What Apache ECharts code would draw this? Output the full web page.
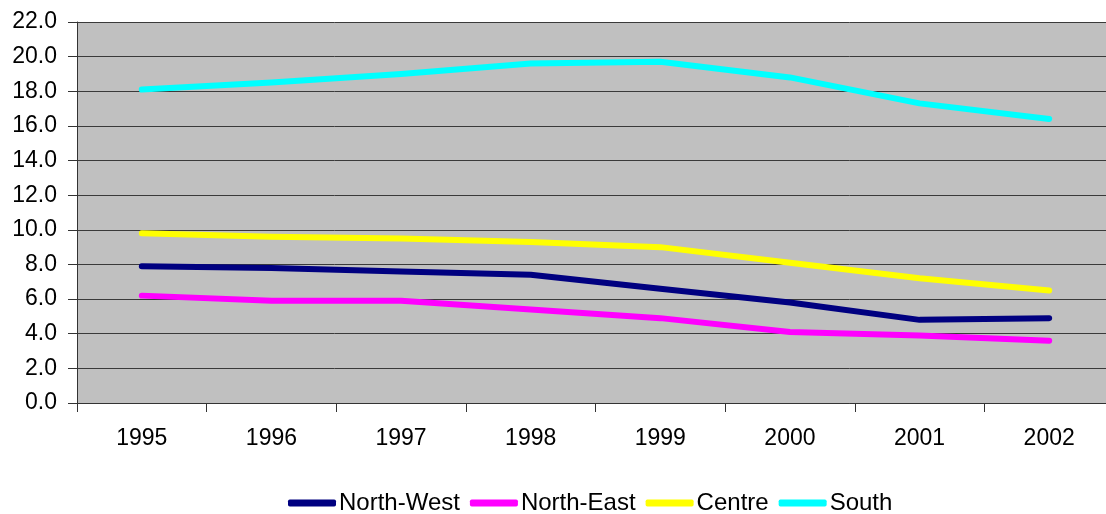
<!DOCTYPE html>
<html>
<head>
<meta charset="utf-8">
<script src="https://cdn.jsdelivr.net/npm/echarts@6/dist/echarts.min.js"></script>
<style>
  html, body { margin: 0; padding: 0; background: #ffffff; overflow: hidden; }
  #chart { width: 1106px; height: 514px; }
</style>
</head>
<body>
<div id="chart"></div>
<script>
// Years on the category axis
const years = ['1995', '1996', '1997', '1998', '1999', '2000', '2001', '2002'];

// Regional series
const northWest = [7.9, 7.8, 7.6, 7.4, 6.6, 5.8, 4.8, 4.9];
const northEast = [6.2, 5.9, 5.9, 5.4, 4.9, 4.1, 3.9, 3.6];
const centre    = [9.8, 9.6, 9.5, 9.3, 9.0, 8.1, 7.2, 6.5];
const south     = [18.1, 18.5, 19.0, 19.6, 19.7, 18.8, 17.3, 16.4];

const seriesNames = ['North-West', 'North-East', 'Centre', 'South'];
const seriesColors = ['#000080', '#FF00FF', '#FFFF00', '#00FFFF'];
const seriesData = [northWest, northEast, centre, south];

const font = 'Liberation Sans, Arial, sans-serif';

const chart = echarts.init(document.getElementById('chart'));
chart.setOption({
  animation: false,
  backgroundColor: '#ffffff',
  // plot area runs slightly past the right edge of the canvas
  grid: {
    left: 77, top: 22, width: 1037, height: 381,
    outerBoundsMode: 'none',
    show: true, backgroundColor: '#C0C0C0', borderWidth: 0
  },
  legend: {
    top: 486,
    left: 283,
    itemWidth: 48,
    itemHeight: 7,
    itemGap: 10,
    icon: 'roundRect',
    textStyle: { fontFamily: font, fontSize: 24, color: '#000000', padding: [0, 0, 0, -2] },
    data: seriesNames
  },
  xAxis: {
    type: 'category',
    data: years,
    boundaryGap: true,
    axisLine: { lineStyle: { color: '#333333', width: 1 } },
    axisTick: { show: true, length: 9, lineStyle: { color: '#333333' } },
    axisLabel: { fontFamily: font, fontSize: 23, color: '#000000', margin: 24 },
    splitLine: { show: false }
  },
  yAxis: {
    type: 'value',
    min: 0, max: 22, interval: 2,
    axisLine: { show: true, lineStyle: { color: '#333333', width: 1 } },
    axisTick: { show: true, length: 9, lineStyle: { color: '#333333' } },
    axisLabel: {
      fontFamily: font, fontSize: 23, color: '#000000', margin: 20,
      formatter: v => v.toFixed(1)
    },
    splitLine: { show: true, lineStyle: { color: '#3a3a3a', width: 1 } }
  },
  series: seriesNames.map((name, i) => ({
    name: name,
    type: 'line',
    data: seriesData[i],
    symbol: 'none',
    color: seriesColors[i],
    lineStyle: { width: 6, color: seriesColors[i], cap: 'round', join: 'round' }
  }))
});
</script>
</body>
</html>
